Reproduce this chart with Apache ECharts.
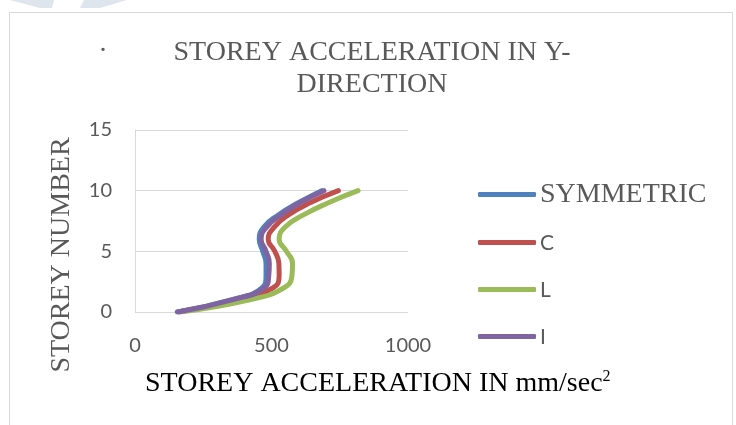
<!DOCTYPE html>
<html>
<head>
<meta charset="utf-8">
<script src="https://cdn.jsdelivr.net/npm/echarts@6/dist/echarts.min.js"></script>
<style>
  html, body { margin: 0; padding: 0; background: #ffffff; }
  #chart { width: 736px; height: 425px; }
</style>
</head>
<body>
<div id="chart"></div>
<script>
// Storey levels (y) and peak storey acceleration in mm/sec² (x) per plan shape
const storeys = [0, 1, 2, 3, 4, 5, 6, 7, 8, 9, 10];
const symmetricAcc = [155, 352, 466, 480, 480, 468, 455, 472, 525, 598, 684];
const cShapeAcc    = [160, 372, 506, 528, 527, 512, 488, 510, 562, 641, 745];
const lShapeAcc    = [165, 420, 546, 575, 577, 555, 528, 550, 617, 708, 817];
const iShapeAcc    = [158, 355, 474, 490, 492, 480, 462, 482, 534, 604, 692];

const seriesNames = ['SYMMETRIC', 'C', 'L', 'I'];
const seriesValues = [symmetricAcc, cShapeAcc, lShapeAcc, iShapeAcc];
const seriesColors = ['#4F81BD', '#C0504D', '#9BBB59', '#8064A2'];

const xTicks = [0, 500, 1000];
const yTicks = [0, 5, 10, 15];

const grey = '#595959';
const serifFont = '28px "Liberation Serif"';
const sans = 'Lato';

const chart = echarts.init(document.getElementById('chart'), null, { renderer: 'canvas' });

// legend rows: swatch from the legend component, label drawn next to it
const legendCenters = [195, 243, 290, 337];
const legendLabelFonts = [serifFont, '21px Lato', '21px Lato', '21px Lato'];
const legends = seriesNames.map((name, i) => ({
  data: [name],
  orient: 'vertical',
  left: 478,
  top: legendCenters[i] - 3,
  padding: 0,
  icon: 'roundRect',
  itemWidth: 58,
  itemHeight: 5,
  selectedMode: false,
  formatter: () => '',
  textStyle: { fontSize: 1 }
}));
const legendLabels = seriesNames.map((name, i) => ({
  type: 'text', silent: true, x: 540, y: legendCenters[i],
  style: { text: name, font: legendLabelFonts[i], fill: grey, align: 'left', verticalAlign: 'middle' }
}));

const option = {
  backgroundColor: '#ffffff',
  animation: false,
  grid: { left: 135, right: 328, top: 130, bottom: 113, containLabel: false },
  xAxis: {
    type: 'value',
    min: xTicks[0],
    max: xTicks[xTicks.length - 1],
    interval: 500,
    axisLine: { show: false },
    axisTick: { show: false },
    splitLine: { show: false },
    axisLabel: { color: grey, fontFamily: sans, fontSize: 20, margin: 24, formatter: v => String(v) }
  },
  yAxis: {
    type: 'value',
    min: yTicks[0],
    max: yTicks[yTicks.length - 1],
    interval: 5,
    axisLine: { show: true, lineStyle: { color: '#d9d9d9', width: 1 } },
    axisTick: { show: false },
    splitLine: { show: true, lineStyle: { color: '#d9d9d9', width: 1 } },
    axisLabel: { color: grey, fontFamily: sans, fontSize: 20, margin: 23 }
  },
  legend: legends,
  series: seriesNames.map((name, i) => ({
    name: name,
    type: 'line',
    smooth: 0.5,
    symbol: 'none',
    lineStyle: { color: seriesColors[i], width: 5, cap: 'round', join: 'round' },
    itemStyle: { color: seriesColors[i] },
    data: storeys.map((s, k) => [seriesValues[i][k], s])
  })),
  graphic: [
    // faint shapes along the top edge
    { type: 'polygon', silent: true, shape: { points: [[10, 0], [54, 0], [52, 8], [40, 8]] },
      style: { fill: '#dfe5ed' } },
    { type: 'polygon', silent: true, shape: { points: [[84, 0], [127, 0], [100, 8], [80, 8]] },
      style: { fill: '#dfe5ed' } },
    // chart frame
    { type: 'rect', silent: true, shape: { x: 9.5, y: 12.5, width: 723, height: 440 },
      style: { fill: 'none', stroke: '#d9d9d9', lineWidth: 1 } },
    // title
    { type: 'text', silent: true, x: 103, y: 44,
      style: { text: '.', font: serifFont, fill: grey, align: 'center', verticalAlign: 'middle' } },
    { type: 'text', silent: true, x: 372, y: 53,
      style: { text: 'STOREY ACCELERATION IN Y-', font: serifFont, fill: grey, align: 'center', verticalAlign: 'middle' } },
    { type: 'text', silent: true, x: 372, y: 85,
      style: { text: 'DIRECTION', font: serifFont, fill: grey, align: 'center', verticalAlign: 'middle' } },
    // y axis title
    { type: 'text', silent: true, x: 62, y: 255, rotation: Math.PI / 2,
      style: { text: 'STOREY NUMBER', font: serifFont, fill: grey, align: 'center', verticalAlign: 'middle' } },
    // x axis title with superscript
    { type: 'text', silent: true, x: 145, y: 384,
      style: {
        text: '{a|STOREY ACCELERATION IN mm/sec}{s|2}',
        align: 'left', verticalAlign: 'middle',
        rich: {
          a: { fontFamily: 'Liberation Serif', fontSize: 28, color: grey, lineHeight: 30 },
          s: { fontFamily: 'Liberation Serif', fontSize: 16, color: grey, lineHeight: 30, verticalAlign: 'top', padding: [0, 0, 12, 0] }
        }
      } }
  ].concat(legendLabels)
};

chart.setOption(option);
</script>
</body>
</html>
